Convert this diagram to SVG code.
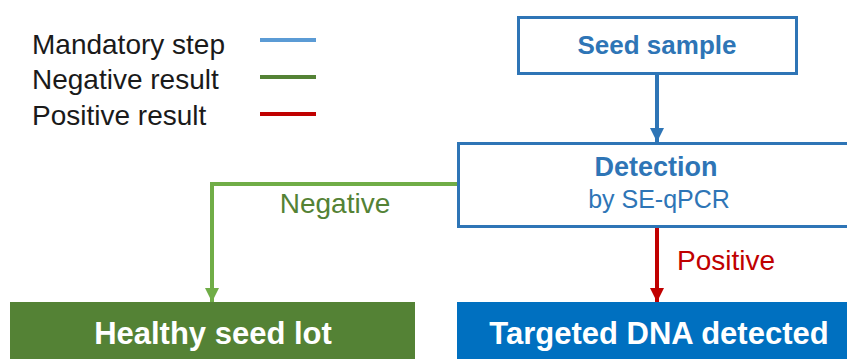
<svg xmlns="http://www.w3.org/2000/svg" width="847" height="359" viewBox="0 0 847 359">
<style>
text{font-family:"Liberation Sans",Arial,sans-serif}
.leg{font-size:28px;fill:#1a1a1a}
.box{fill:#fff;stroke:#2E75B6;stroke-width:3}
.blue{fill:#2E75B6}
.conn{fill:none;stroke-width:4}
.bt{font-weight:bold;fill:#fff;font-size:31px}
</style>
<defs>
<marker id="ab" viewBox="0 0 14 14" refX="14" refY="7" markerWidth="14" markerHeight="14" orient="auto" markerUnits="userSpaceOnUse"><path d="M0,0 L14,7 L0,14 Z" fill="#2E75B6"/></marker>
<marker id="ag" viewBox="0 0 14 14" refX="14" refY="7" markerWidth="14" markerHeight="14" orient="auto" markerUnits="userSpaceOnUse"><path d="M0,0 L14,7 L0,14 Z" fill="#70AD47"/></marker>
<marker id="ar" viewBox="0 0 14 14" refX="14" refY="7" markerWidth="14" markerHeight="14" orient="auto" markerUnits="userSpaceOnUse"><path d="M0,0 L14,7 L0,14 Z" fill="#C00000"/></marker>
</defs>
<rect width="847" height="359" fill="#fff"/>
<g id="legend">
<text class="leg" x="32" y="54">Mandatory step</text>
<text class="leg" x="32" y="89">Negative result</text>
<text class="leg" x="32" y="125">Positive result</text>
<line x1="260" y1="40" x2="316" y2="40" stroke="#5B9BD5" stroke-width="4"/>
<line x1="260" y1="77" x2="316" y2="77" stroke="#548235" stroke-width="4"/>
<line x1="260" y1="114" x2="316" y2="114" stroke="#C00000" stroke-width="4"/>
</g>
<g id="connectors">
<path class="conn" d="M657 74 V142" stroke="#2E75B6" marker-end="url(#ab)"/>
<path class="conn" d="M457 184 H212 V302" stroke="#70AD47" stroke-linejoin="miter" marker-end="url(#ag)"/>
<path class="conn" d="M657 227 V302" stroke="#C00000" marker-end="url(#ar)"/>
<text x="335" y="213" font-size="28" fill="#548235" text-anchor="middle">Negative</text>
<text x="677" y="270" font-size="28" fill="#C00000">Positive</text>
</g>
<g id="seed">
<rect class="box" x="518.5" y="17.5" width="278" height="56"/>
<text class="blue" x="657" y="54" font-size="26" font-weight="bold" text-anchor="middle">Seed sample</text>
</g>
<g id="detection">
<rect class="box" x="458.5" y="143.5" width="400" height="83"/>
<text class="blue" x="656" y="176" font-size="27" font-weight="bold" text-anchor="middle">Detection</text>
<text class="blue" x="659" y="208" font-size="25" text-anchor="middle">by SE-qPCR</text>
</g>
<g id="healthy">
<rect x="10" y="302" width="405" height="60" fill="#548235"/>
<text class="bt" x="213" y="344" text-anchor="middle">Healthy seed lot</text>
</g>
<g id="targeted">
<rect x="457" y="302" width="395" height="60" fill="#0070C0"/>
<text class="bt" x="659" y="344" text-anchor="middle" font-size="30.5">Targeted DNA detected</text>
</g>
</svg>
